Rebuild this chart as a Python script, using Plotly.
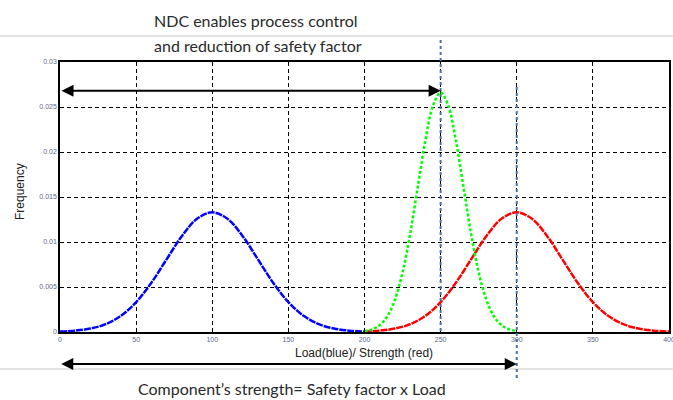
import plotly.graph_objects as go

# Data
load_x = [0, 10, 20, 30, 40, 50, 60, 70, 80, 90, 100, 110, 120, 130, 140, 150, 160, 170, 180, 190, 200]
load_y = [0.00005, 0.00015, 0.00038, 0.00087, 0.00180, 0.00332, 0.00547, 0.00807, 0.01065, 0.01258, 0.01330,
          0.01258, 0.01065, 0.00807, 0.00547, 0.00332, 0.00180, 0.00087, 0.00038, 0.00015, 0.00005]

strength_x = [200, 210, 220, 230, 240, 250, 260, 270, 280, 290, 300, 310, 320, 330, 340, 350, 360, 370, 380, 390, 400]
strength_y = [0.00005, 0.00015, 0.00038, 0.00087, 0.00180, 0.00332, 0.00547, 0.00807, 0.01065, 0.01258, 0.01330,
              0.01258, 0.01065, 0.00807, 0.00547, 0.00332, 0.00180, 0.00087, 0.00038, 0.00015, 0.00005]

ndc_x = [200, 205, 210, 215, 220, 225, 230, 235, 240, 245, 250, 255, 260, 265, 270, 275, 280, 285, 290, 295, 300]
ndc_y = [0.00010, 0.00030, 0.00076, 0.00175, 0.00360, 0.00663, 0.01093, 0.01613, 0.02130, 0.02516, 0.02660,
         0.02516, 0.02130, 0.01613, 0.01093, 0.00663, 0.00360, 0.00175, 0.00076, 0.00030, 0.00010]

x_ticks = [0, 50, 100, 150, 200, 250, 300, 350, 400]
y_ticks = [0, 0.005, 0.01, 0.015, 0.02, 0.025, 0.03]
y_tick_text = ["0", "0.005", "0.01", "0.015", "0.02", "0.025", "0.03"]

fig = go.Figure()
fig.add_trace(go.Scatter(x=load_x, y=load_y, mode="lines", line=dict(color="#0000ff", width=2.5, dash="7px,1px", shape="spline")))
fig.add_trace(go.Scatter(x=strength_x, y=strength_y, mode="lines", line=dict(color="#ff0000", width=2.5, dash="7px,1px", shape="spline")))
fig.add_trace(go.Scatter(x=ndc_x, y=ndc_y, mode="lines", line=dict(color="#00ff00", width=2.5, dash="3px,2px", shape="spline")))

W, H = 673, 400
L, R, T, B = 60, 4, 62, 68
pw, ph = W - L - R, H - T - B

def px(xp):
    return (xp - L) / pw

def py(yp):
    return (H - B - yp) / ph

shapes = [
    dict(type="line", xref="paper", yref="paper", x0=px(0), x1=px(673), y0=py(36), y1=py(36),
         line=dict(color="#c8c8c8", width=1), layer="below"),
    dict(type="line", xref="paper", yref="paper", x0=px(0), x1=px(673), y0=py(369), y1=py(369),
         line=dict(color="#c8c8c8", width=1), layer="below"),
    dict(type="line", xref="x", yref="paper", x0=250, x1=250, y0=py(40), y1=0,
         line=dict(color="#4a72a8", width=2, dash="dot"), layer="above"),
    dict(type="line", xref="x", yref="paper", x0=300, x1=300, y0=py(87), y1=py(379),
         line=dict(color="#4a72a8", width=2, dash="dot"), layer="above"),
]

annotations = [
    dict(x=250, y=0.0268, ax=0, ay=0.0268, xref="x", yref="y", axref="x", ayref="y",
         text="", showarrow=True, arrowhead=2, arrowsize=1.2, arrowwidth=2, arrowcolor="black", arrowside="end+start"),
    dict(x=300, y=py(364), ax=-(517 - 60), ay=0, xref="x", yref="paper", axref="pixel", ayref="pixel",
         text="", showarrow=True, arrowhead=2, arrowsize=1.2, arrowwidth=2, arrowcolor="black", arrowside="end+start"),
    dict(x=px(152), y=py(20), xref="paper", yref="paper", xanchor="left", yanchor="middle", showarrow=False,
         text="NDC enables process control", font=dict(family="Lato", size=16, color="#2a2a2a")),
    dict(x=px(152), y=py(45), xref="paper", yref="paper", xanchor="left", yanchor="middle", showarrow=False,
         text="and reduction of safety factor", font=dict(family="Lato", size=16, color="#2a2a2a")),
    dict(x=px(292), y=py(388), xref="paper", yref="paper", xanchor="center", yanchor="middle", showarrow=False,
         text="Component’s strength= Safety factor x Load", font=dict(family="Lato", size=16, color="#2a2a2a")),
    dict(x=px(364), y=py(353), xref="paper", yref="paper", xanchor="center", yanchor="middle", showarrow=False,
         text="Load(blue)/ Strength (red)", font=dict(family="Liberation Sans", size=12, color="#222")),
    dict(x=px(20), y=py(192), xref="paper", yref="paper", xanchor="center", yanchor="middle", showarrow=False,
         text="Frequency", textangle=-90, font=dict(family="Liberation Sans", size=12, color="#222")),
]

fig.update_layout(
    width=W, height=H, margin=dict(l=L, r=R, t=T, b=B),
    paper_bgcolor="white", plot_bgcolor="white", showlegend=False,
    shapes=shapes, annotations=annotations,
    xaxis=dict(range=[0, 400], tickvals=x_ticks, ticktext=[str(v) for v in x_ticks], automargin=False,
               ticklabeloverflow="allow",
               showgrid=True, gridcolor="black", griddash="4px,3px", gridwidth=1,
               showline=True, linecolor="black", linewidth=1.5, mirror=True,
               ticks="inside", ticklen=4, tickcolor="black", zeroline=False,
               tickfont=dict(family="Liberation Sans", size=7, color="#5a6a88")),
    yaxis=dict(range=[0, 0.03], tickvals=y_ticks, ticktext=y_tick_text, automargin=False,
               ticklabeloverflow="allow",
               showgrid=True, gridcolor="black", griddash="4px,3px", gridwidth=1,
               showline=True, linecolor="black", linewidth=1.5, mirror=True,
               ticks="inside", ticklen=4, tickcolor="black", zeroline=False,
               tickfont=dict(family="Liberation Sans", size=7, color="#5a6a88")),
)

fig.write_html("out.html", config={"displayModeBar": False},
               post_script="document.body.style.margin='0';document.body.style.overflow='hidden';")
